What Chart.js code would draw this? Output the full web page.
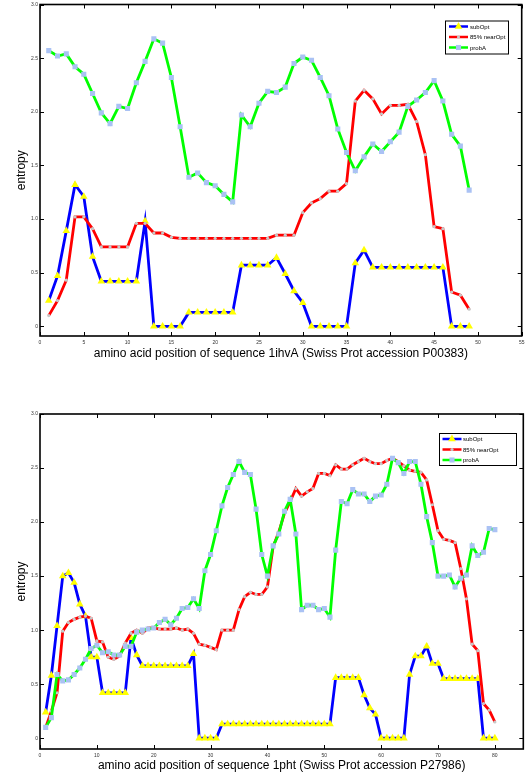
<!DOCTYPE html>
<html>
<head>
<meta charset="utf-8">
<script src="https://cdn.jsdelivr.net/npm/chart.js@4"></script>
<style>
  html, body { margin: 0; padding: 0; background: #fff; }
  body { width: 530px; height: 777px; position: relative; overflow: hidden; }
  canvas { position: absolute; left: 0; }
  #topChart { top: 0; }
  #bottomChart { top: 400px; }
</style>
</head>
<body>
<canvas id="topChart" width="530" height="370"></canvas>
<canvas id="bottomChart" width="530" height="377"></canvas>
<script>
// sequence 1ihvA, positions 1..49
const topSubOpt = [0.24, 0.47, 0.89, 1.32, 1.21, 0.65, 0.42, 0.42, 0.42, 0.42,
  0.42, 0.98, 0, 0, 0, 0, 0.13, 0.13, 0.13, 0.13,
  0.13, 0.13, 0.57, 0.57, 0.57, 0.57, 0.64, 0.49, 0.33, 0.22,
  0, 0, 0, 0, 0, 0.59, 0.71, 0.55, 0.55, 0.55,
  0.55, 0.55, 0.55, 0.55, 0.55, 0.55, 0, 0, 0];
const topNearOpt = [0.10, 0.24, 0.43, 1.02, 1.02, 0.91, 0.74, 0.74, 0.74, 0.74,
  0.96, 0.96, 0.87, 0.87, 0.83, 0.82, 0.82, 0.82, 0.82, 0.82,
  0.82, 0.82, 0.82, 0.82, 0.82, 0.82, 0.85, 0.85, 0.85, 1.06,
  1.15, 1.19, 1.26, 1.26, 1.33, 2.10, 2.20, 2.12, 1.98, 2.06,
  2.06, 2.07, 1.91, 1.60, 0.93, 0.91, 0.32, 0.29, 0.16];
const topProbA = [2.57, 2.52, 2.54, 2.42, 2.35, 2.17, 1.99, 1.89, 2.05, 2.03,
  2.27, 2.47, 2.68, 2.64, 2.32, 1.86, 1.39, 1.43, 1.34, 1.31,
  1.23, 1.16, 1.97, 1.86, 2.08, 2.19, 2.18, 2.23, 2.45, 2.51,
  2.48, 2.32, 2.15, 1.84, 1.62, 1.45, 1.58, 1.70, 1.63, 1.72,
  1.81, 2.05, 2.11, 2.18, 2.29, 2.10, 1.79, 1.68, 1.27];

// sequence 1pht, positions 1..80
const botSubOpt = [0.24, 0.58, 1.04, 1.50, 1.53, 1.44, 1.24, 1.13, 0.75, 0.75,
  0.42, 0.42, 0.42, 0.42, 0.42, 0.93, 0.77, 0.67, 0.67, 0.67,
  0.67, 0.67, 0.67, 0.67, 0.67, 0.67, 0.78, 0, 0, 0,
  0, 0.13, 0.13, 0.13, 0.13, 0.13, 0.13, 0.13, 0.13, 0.13,
  0.13, 0.13, 0.13, 0.13, 0.13, 0.13, 0.13, 0.13, 0.13, 0.13,
  0.13, 0.56, 0.56, 0.56, 0.56, 0.56, 0.40, 0.28, 0.22, 0,
  0, 0, 0, 0, 0.59, 0.76, 0.76, 0.85, 0.69, 0.69,
  0.55, 0.55, 0.55, 0.55, 0.55, 0.55, 0.55, 0, 0, 0];
const botNearOpt = [0.10, 0.25, 0.42, 0.99, 1.07, 1.10, 1.12, 1.13, 1.11, 0.90,
  0.89, 0.75, 0.73, 0.76, 0.88, 0.97, 1.00, 0.97, 1.02, 1.02,
  1.01, 1.01, 1.01, 1.02, 1.00, 1.01, 0.97, 0.87, 0.86, 0.84,
  0.82, 1.00, 1.00, 1.00, 1.19, 1.31, 1.35, 1.33, 1.33, 1.40,
  1.77, 1.91, 2.08, 2.19, 2.31, 2.24, 2.28, 2.31, 2.45, 2.45,
  2.43, 2.53, 2.49, 2.49, 2.53, 2.56, 2.59, 2.56, 2.54, 2.54,
  2.57, 2.59, 2.56, 2.52, 2.48, 2.47, 2.46, 2.39, 2.16, 1.92,
  1.84, 1.83, 1.81, 1.57, 1.29, 0.87, 0.81, 0.32, 0.26, 0.15];
const botProbA = [0.10, 0.19, 0.59, 0.53, 0.54, 0.59, 0.65, 0.73, 0.83, 0.86,
  0.79, 0.80, 0.77, 0.77, 0.85, 0.85, 0.98, 1.00, 1.01, 1.02,
  1.07, 1.10, 1.05, 1.11, 1.20, 1.21, 1.29, 1.20, 1.55, 1.70,
  1.92, 2.15, 2.32, 2.44, 2.56, 2.46, 2.44, 2.12, 1.70, 1.50,
  1.78, 1.89, 2.10, 2.21, 1.89, 1.19, 1.23, 1.23, 1.19, 1.20,
  1.12, 1.74, 2.19, 2.17, 2.30, 2.26, 2.26, 2.19, 2.24, 2.25,
  2.35, 2.59, 2.55, 2.45, 2.56, 2.56, 2.35, 2.05, 1.81, 1.50,
  1.50, 1.51, 1.40, 1.48, 1.51, 1.78, 1.69, 1.72, 1.94, 1.93];

const seriesNames = ['subOpt', '85% nearOpt', 'probA'];
const yTicks = [0, 0.5, 1, 1.5, 2, 2.5, 3];
const xTicksTop = [0, 5, 10, 15, 20, 25, 30, 35, 40, 45, 50, 55];
const xTicksBot = [0, 10, 20, 30, 40, 50, 60, 70, 80];

const FONT = '"Liberation Sans", Arial, sans-serif';

function pts(vals) {
  return vals.map((v, i) => ({ x: i + 1, y: v }));
}

// MATLAB-like box with inward ticks on all four sides
const framePlugin = {
  id: 'frame',
  afterDatasetsDraw(chart) {
    const { ctx, chartArea: a, scales: { x, y } } = chart;
    const tl = 4;
    ctx.save();
    ctx.strokeStyle = '#000';
    ctx.lineWidth = 1;
    ctx.beginPath();
    x.ticks.forEach(t => {
      const px = Math.round(x.getPixelForValue(t.value)) + 0.5;
      ctx.moveTo(px, a.bottom); ctx.lineTo(px, a.bottom - tl);
      ctx.moveTo(px, a.top); ctx.lineTo(px, a.top + tl);
    });
    y.ticks.forEach(t => {
      const py = Math.round(y.getPixelForValue(t.value)) + 0.5;
      ctx.moveTo(a.left, py); ctx.lineTo(a.left + tl, py);
      ctx.moveTo(a.right, py); ctx.lineTo(a.right - tl, py);
    });
    ctx.stroke();
    ctx.lineWidth = 1.6;
    ctx.strokeRect(a.left, a.top, a.right - a.left, a.bottom - a.top);
    ctx.restore();
  }
};

function marker(ctx, style, x, y, r) {
  ctx.beginPath();
  if (style === 'triangle') {
    ctx.moveTo(x, y - r);
    ctx.lineTo(x + r * 0.866, y + r * 0.5);
    ctx.lineTo(x - r * 0.866, y + r * 0.5);
    ctx.closePath();
  } else if (style === 'rect') {
    const s = r * Math.SQRT1_2;
    ctx.rect(x - s, y - s, 2 * s, 2 * s);
  } else {
    ctx.arc(x, y, r, 0, Math.PI * 2);
  }
  ctx.fill();
}

// legend box drawn inside the axes, top right
const boxLegend = {
  id: 'boxLegend',
  afterDraw(chart, args, o) {
    const { ctx, chartArea: a } = chart;
    const bx = a.left + o.dx, by = a.top + o.dy;
    ctx.save();
    ctx.fillStyle = '#fff';
    ctx.fillRect(bx, by, o.w, o.h);
    ctx.strokeStyle = '#000';
    ctx.lineWidth = 1;
    ctx.strokeRect(bx + 0.5, by + 0.5, o.w, o.h);
    ctx.font = '6px ' + FONT;
    ctx.textBaseline = 'middle';
    chart.data.datasets.forEach((ds, i) => {
      const ry = by + o.rows[i];
      ctx.strokeStyle = ds.borderColor;
      ctx.lineWidth = 2.5;
      ctx.beginPath();
      ctx.moveTo(bx + o.s0, ry);
      ctx.lineTo(bx + o.s1, ry);
      ctx.stroke();
      ctx.fillStyle = ds.pointBackgroundColor;
      marker(ctx, ds.pointStyle, bx + (o.s0 + o.s1) / 2, ry, ds.pointRadius);
      ctx.fillStyle = '#000';
      ctx.fillText(ds.label, bx + o.tx, ry + 0.5);
    });
    ctx.restore();
  }
};

function makeChart(id, sub, near, prob, cfg) {
  return new Chart(document.getElementById(id), {
    type: 'line',
    data: {
      datasets: [
        { label: seriesNames[0], data: pts(sub), order: 3,
          borderColor: '#0000ff', borderWidth: 2.8,
          pointStyle: 'triangle', pointRadius: 4.4,
          pointBackgroundColor: '#ffff00', pointBorderWidth: 0 },
        { label: seriesNames[1], data: pts(near), order: 2,
          borderColor: '#ff0000', borderWidth: 2.8,
          pointStyle: 'circle', pointRadius: 1.6,
          pointBackgroundColor: '#c8c8c8', pointBorderWidth: 0 },
        { label: seriesNames[2], data: pts(prob), order: 1,
          borderColor: '#00ff00', borderWidth: 2.8,
          pointStyle: 'rect', pointRadius: 3.6,
          pointBackgroundColor: '#aac2f4', pointBorderWidth: 0 }
      ]
    },
    options: {
      responsive: false,
      animation: false,
      layout: { padding: { top: cfg.padTop, right: cfg.padRight, left: 0, bottom: 0 } },
      elements: { line: { tension: 0 } },
      plugins: {
        legend: { display: false },
        tooltip: { enabled: false },
        boxLegend: cfg.legend
      },
      scales: {
        x: {
          type: 'linear', min: 0, max: cfg.xMax,
          afterBuildTicks: s => { s.ticks = cfg.xTicks.map(v => ({ value: v })); },
          afterFit: s => { s.height = cfg.xHeight; },
          grid: { display: false, drawTicks: false },
          border: { display: false },
          ticks: { font: { size: 5, family: FONT, lineHeight: 1 }, color: '#333', padding: 4, maxRotation: 0 },
          title: {
            display: true, text: cfg.xTitle, color: '#000',
            font: { size: 12, family: FONT },
            padding: { top: 0, bottom: cfg.titlePad }
          }
        },
        y: {
          min: cfg.yMin, max: 3,
          afterBuildTicks: s => { s.ticks = yTicks.map(v => ({ value: v })); },
          afterFit: s => { s.width = 40; },
          grid: { display: false, drawTicks: false },
          border: { display: false },
          ticks: { font: { size: 5, family: FONT, lineHeight: 1 }, color: '#333', padding: 2 },
          title: {
            display: true, text: 'entropy', color: '#000',
            font: { size: 12, family: FONT },
            padding: { top: 14, bottom: 0 }
          }
        }
      }
    },
    plugins: [framePlugin, boxLegend]
  });
}

makeChart('topChart', topSubOpt, topNearOpt, topProbA, {
  padTop: 2.7, padRight: 8.3, xMax: 55, xTicks: xTicksTop, xHeight: 34, yMin: -0.09,
  titlePad: 9.3,
  xTitle: 'amino acid position of sequence 1ihvA (Swiss Prot accession P00383)',
  legend: { dx: 405, dy: 16, w: 63, h: 33, rows: [6, 16.5, 27], s0: 4, s1: 23, tx: 25 }
});

makeChart('bottomChart', botSubOpt, botNearOpt, botProbA, {
  padTop: 14, padRight: 6.7, xMax: 85, xTicks: xTicksBot, xHeight: 28, yMin: -0.1,
  titlePad: 4,
  xTitle: 'amino acid position of sequence 1pht (Swiss Prot accession P27986)',
  legend: { dx: 399, dy: 19, w: 77, h: 32, rows: [6, 16.5, 27], s0: 3.5, s1: 22.5, tx: 24 }
});
</script>
</body>
</html>
